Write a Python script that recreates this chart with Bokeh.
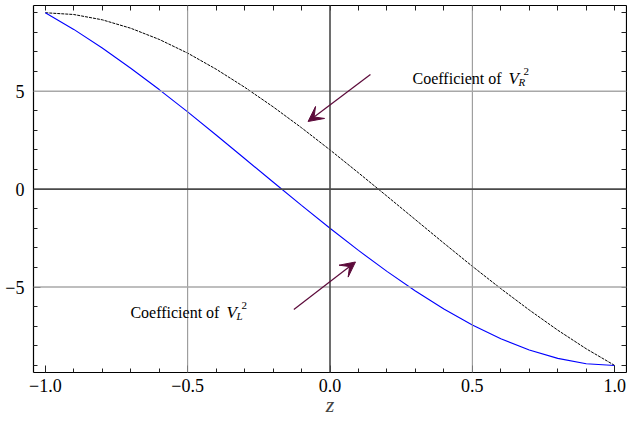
from bokeh.plotting import figure
from bokeh.models import (Range1d, LinearAxis, FixedTicker, Span, Arrow, VeeHead, Label)
from bokeh.embed import file_html
from bokeh.resources import INLINE

# ---- data ----
z = [-1.0, -0.9, -0.8, -0.7, -0.6, -0.5, -0.4, -0.3, -0.2, -0.1, 0.0,
     0.1, 0.2, 0.3, 0.4, 0.5, 0.6, 0.7, 0.8, 0.9, 1.0]
coef_VL2 = [9.0, 8.15, 7.2, 6.17, 5.08, 3.94, 2.76, 1.56, 0.36, -0.83, -2.0,
            -3.13, -4.2, -5.2, -6.12, -6.94, -7.64, -8.21, -8.64, -8.91, -9.0]
coef_VR2 = [9.0, 8.91, 8.64, 8.21, 7.64, 6.94, 6.12, 5.2, 4.2, 3.13, 2.0,
            0.83, -0.36, -1.56, -2.76, -3.94, -5.08, -6.17, -7.2, -8.15, -9.0]
x_ticks = [-1.0, -0.5, 0.0, 0.5, 1.0]
x_tick_labels = {-1.0: "\u22121.0", -0.5: "\u22120.5", 0.0: "0.0", 0.5: "0.5", 1.0: "1.0"}
y_ticks = [-5, 0, 5]
y_tick_labels = {-5: "\u22125", 0: "0", 5: "5"}
x_label = "z"
label_text = "Coefficient of "

SERIF = "Liberation Serif"
ARROW_COLOR = "#5c0a3a"

p = figure(width=627, height=425, output_backend="svg", toolbar_location=None,
           x_range=Range1d(-1.0415, 1.0415), y_range=Range1d(-9.36, 9.37),
           x_axis_location=None, y_axis_location=None,
           min_border_left=33, min_border_right=1, min_border_top=5, min_border_bottom=53)
p.outline_line_color = None
p.background_fill_color = "white"
p.border_fill_color = "white"

def style_axis(ax):
    ax.axis_line_color = "black"
    ax.axis_line_width = 1.2
    ax.major_tick_in = 7
    ax.major_tick_out = 0
    ax.minor_tick_in = 4
    ax.minor_tick_out = 0
    ax.major_tick_line_color = "#222222"
    ax.minor_tick_line_color = "#222222"
    ax.major_label_text_font = SERIF
    ax.major_label_text_color = "black"
    return ax

x_minor = [round(-1.0 + 0.1 * i, 2) for i in range(21)]
y_minor = list(range(-9, 10))

# labelled axes (bottom, left)
bx = style_axis(LinearAxis(ticker=FixedTicker(ticks=x_ticks, minor_ticks=x_minor)))
bx.major_label_overrides = x_tick_labels
bx.major_label_text_font_size = "18px"
bx.major_label_standoff = 6
bx.axis_label = x_label
bx.axis_label_text_font = SERIF
bx.axis_label_text_font_style = "italic"
bx.axis_label_text_font_size = "22px"
bx.axis_label_standoff = -3
p.add_layout(bx, "below")

ly = style_axis(LinearAxis(ticker=FixedTicker(ticks=y_ticks, minor_ticks=y_minor)))
ly.major_label_overrides = y_tick_labels
ly.major_label_text_font_size = "18px"
ly.major_label_standoff = 9
p.add_layout(ly, "left")

# unlabelled frame sides (top, right): ticks only
tx = style_axis(LinearAxis(ticker=FixedTicker(ticks=[], minor_ticks=x_minor)))
tx.minor_tick_in = 5
p.add_layout(tx, "above")
ry = style_axis(LinearAxis(ticker=FixedTicker(ticks=[], minor_ticks=y_minor)))
ry.minor_tick_in = 5
p.add_layout(ry, "right")

# grid lines
p.xgrid.visible = False
p.ygrid.visible = False
for xv in (-0.5, 0.5):
    p.add_layout(Span(location=xv, dimension="height", line_color="#8c8c8c", line_width=1))
for yv in (-5, 5):
    p.add_layout(Span(location=yv, dimension="width", line_color="#a8a8a8", line_width=1.5))
p.add_layout(Span(location=0, dimension="height", line_color="#4a4a4a", line_width=1.6))
p.add_layout(Span(location=0, dimension="width", line_color="#4a4a4a", line_width=1.6))

# curves
p.line(z, coef_VR2, line_color="black", line_width=1, line_dash="3 1")
p.line(z, coef_VL2, line_color="#0000ff", line_width=1.1)

# arrows
arrow_VR = dict(x_start=0.142, y_start=5.85, x_end=-0.077, y_end=3.45)
arrow_VL = dict(x_start=-0.127, y_start=-6.14, x_end=0.0895, y_end=-3.72)
for a in (arrow_VR, arrow_VL):
    p.add_layout(Arrow(end=VeeHead(size=15, fill_color=ARROW_COLOR, line_color=ARROW_COLOR),
                       line_color=ARROW_COLOR, line_width=1.2, **a))

# labels
def add_coef_label(x, y, sub):
    p.add_layout(Label(x=x, y=y, text=label_text, text_font=SERIF, text_font_size="16px",
                       text_baseline="alphabetic", text_color="black"))
    p.add_layout(Label(x=x, y=y, x_offset=96, text="V", text_font=SERIF, text_font_style="italic",
                       text_font_size="17px", text_baseline="alphabetic", text_color="black"))
    p.add_layout(Label(x=x, y=y, x_offset=111, y_offset=7, text="2", text_font=SERIF,
                       text_font_size="11px", text_baseline="alphabetic", text_color="black"))
    p.add_layout(Label(x=x, y=y, x_offset=106, y_offset=-4, text=sub, text_font=SERIF,
                       text_font_style="italic", text_font_size="11px",
                       text_baseline="alphabetic", text_color="black"))

add_coef_label(0.290, 5.65, "R")
add_coef_label(-0.701, -6.28, "L")

open("out.html", "w").write(file_html(p, INLINE))
